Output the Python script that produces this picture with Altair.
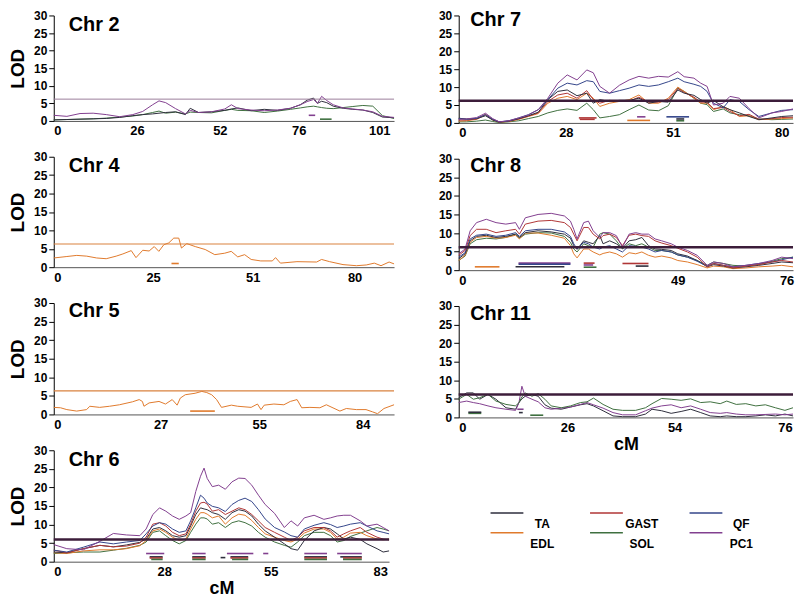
import altair as alt
import pandas as pd

FONT = "Liberation Sans"
SERIES = ["TA", "GAST", "QF", "EDL", "SOL", "PC1"]
COLORS = ["#2e2e3c", "#b03636", "#34468a", "#e07a2c", "#3f7040", "#82408f"]
YTICKS = [0, 5, 10, 15, 20, 25, 30]

# ---------------- Chr 2 ----------------
chr2_ticks = [0, 26, 52, 76, 101]
chr2_cm = [0, 4.1, 8.2, 12.3, 16.4, 20.6, 24.7, 27.8, 30.9, 32.9, 35.0, 38.1, 41.2, 42.7, 45.3, 49.4,
           53.5, 55.5, 57.5, 61.5, 65.5, 69.5, 73.5, 76.5, 78.6, 80.6, 81.8, 83.1, 84.7, 86.7, 89.8,
           92.8, 95.9, 99.0, 102.0, 105.6]
chr2_PC1 = [1.6, 1.3, 2.1, 2.2, 1.8, 1.2, 1.8, 2.7, 4.6, 5.7, 5.2, 3.5, 2.0, 3.0, 2.4, 2.6, 3.4, 4.6,
            3.5, 3.1, 2.9, 3.1, 3.6, 4.6, 5.5, 6.1, 5.0, 7.0, 5.8, 4.6, 3.7, 3.4, 3.1, 2.6, 1.3, 1.0]
chr2_TA = [0.3, 0.4, 0.5, 0.6, 0.7, 1.0, 1.5, 1.8, 2.0, 2.2, 2.4, 2.6, 1.8, 3.6, 2.4, 2.6, 3.0, 3.4,
           3.7, 2.9, 3.3, 3.0, 3.6, 4.6, 5.9, 6.5, 5.0, 5.6, 5.2, 4.2, 3.6, 3.3, 3.1, 2.4, 1.1, 0.9]
chr2_SOL = [0.3, 0.4, 0.5, 0.6, 0.8, 1.1, 1.4, 1.8, 2.4, 2.8, 2.2, 2.5, 2.0, 2.5, 2.4, 2.3, 3.0, 3.3,
            3.0, 2.9, 2.4, 2.8, 3.3, 3.7, 4.0, 4.2, 4.0, 3.8, 3.6, 3.5, 3.8, 4.1, 4.4, 4.2, 1.5, 0.7]

# ---------------- Chr 4 ----------------
chr4_ticks = [0, 25, 51, 80]
chr4_cm = [0, 3.3, 5.8, 8.3, 10.8, 13.2, 15.7, 17.4, 19.5, 20.7, 22.4, 24.0, 25.3, 26.5, 27.8, 29.1,
           30.4, 31.7, 32.4, 33.8, 36.0, 38.6, 41.1, 43.7, 45.4, 47.1, 48.9, 50.6, 53.3, 56.6, 57.5,
           58.9, 63.6, 69.2, 70.6, 72.9, 76.7, 80.5, 83.3, 85.6, 87.5, 89.8, 91.2]
chr4_EDL = [2.5, 2.9, 3.2, 3.0, 2.5, 2.3, 3.0, 3.6, 4.5, 2.6, 4.6, 4.4, 5.6, 4.3, 6.1, 6.6, 7.9, 7.9,
            5.2, 6.4, 5.6, 4.8, 3.4, 3.8, 4.3, 2.8, 3.4, 2.1, 1.7, 1.7, 2.6, 1.1, 1.5, 1.4, 2.1, 1.5,
            0.7, 0.4, 0.6, 1.1, 0.4, 1.4, 0.9]

# ---------------- Chr 5 ----------------
chr5_ticks = [0, 27, 55, 84]
chr5_cm = [0, 1.7, 3.3, 5.8, 8.3, 9.1, 11.6, 14.1, 16.6, 19.9, 21.6, 22.4, 22.8, 24.1, 26.6, 28.4,
           30.3, 31.7, 32.6, 34.0, 36.8, 38.7, 40.1, 41.5, 42.9, 44.3, 47.1, 48.9, 52.7, 54.5, 55.5,
           56.4, 59.1, 61.9, 63.7, 65.6, 66.9, 69.2, 72.0, 73.8, 77.6, 79.4, 82.2, 84.9, 86.7, 88.1,
           89.9, 92.7]
chr5_EDL = [1.9, 1.8, 1.3, 0.9, 1.3, 2.2, 1.9, 2.2, 2.6, 3.4, 4.0, 3.5, 2.2, 3.1, 3.5, 2.8, 4.0, 2.5,
            4.4, 5.3, 5.7, 6.2, 5.9, 5.3, 4.0, 1.9, 2.5, 2.2, 1.9, 2.8, 1.3, 2.5, 2.8, 2.6, 3.5, 4.0,
            1.8, 1.9, 1.8, 2.6, 0.9, 1.6, 1.3, 1.3, 0.7, 0.2, 1.6, 2.6]

# ---------------- Chr 6 ----------------
chr6_ticks = [0, 28, 55, 83]
chr6_cm = [0, 3.3, 7.5, 11.7, 15.1, 18.4, 21.8, 23.4, 25.1, 26.8, 28.4, 30.1, 31.8, 33.5, 34.7, 36.0,
           37.2, 38.1, 38.9, 40.2, 41.8, 43.5, 45.2, 46.9, 48.5, 50.2, 51.9, 53.6, 56.0, 58.5, 60.2,
           61.9, 63.6, 66.1, 68.6, 70.3, 72.0, 73.7, 75.4, 77.9, 79.6, 82.2, 83.8, 85.4]
chr6_PC1 = [4.6, 3.5, 3.2, 5.5, 7.6, 7.2, 7.0, 8.8, 12.7, 14.5, 13.6, 12.3, 11.4, 12.3, 13.2, 18.9,
            23.0, 25.2, 22.4, 20.2, 20.6, 19.5, 21.5, 22.5, 22.4, 20.6, 17.9, 15.4, 13.0, 9.2, 11.0,
            9.6, 11.8, 12.5, 11.4, 11.8, 12.3, 12.5, 12.5, 11.0, 9.6, 10.1, 9.2, 8.3]
chr6_QF = [3.1, 2.6, 3.9, 5.3, 4.8, 5.3, 5.7, 7.5, 9.6, 10.5, 10.1, 8.8, 7.9, 8.3, 11.0, 14.5, 17.9,
           17.1, 15.8, 14.9, 14.5, 13.5, 15.4, 16.5, 17.1, 16.2, 14.0, 11.5, 9.2, 8.0, 7.0, 6.6, 8.8,
           9.8, 10.5, 10.0, 9.2, 9.6, 10.1, 10.5, 9.6, 8.3, 7.9, 7.5]
chr6_GAST = [3.1, 2.4, 3.5, 4.4, 4.0, 4.2, 5.0, 6.6, 10.1, 10.5, 9.6, 7.9, 7.0, 7.5, 10.1, 13.6, 15.8,
             16.0, 15.5, 13.6, 14.0, 12.7, 13.6, 14.5, 14.0, 12.7, 11.0, 9.2, 7.9, 6.6, 5.7, 6.6, 8.3,
             9.2, 9.2, 8.3, 6.6, 7.5, 8.3, 9.2, 7.9, 6.6, 6.1, 5.9]
chr6_TA = [2.6, 2.4, 3.5, 4.4, 4.0, 4.5, 5.2, 6.1, 8.8, 9.2, 8.3, 7.0, 6.6, 7.0, 9.6, 12.7, 14.5, 14.2,
           14.0, 13.2, 12.7, 11.4, 13.2, 14.0, 13.6, 12.3, 10.1, 8.3, 6.6, 4.8, 3.5, 3.1, 5.7, 8.3,
           9.2, 8.8, 7.5, 6.1, 6.6, 6.0, 4.8, 3.5, 2.6, 2.9]
chr6_EDL = [2.4, 2.2, 2.9, 3.2, 3.2, 3.5, 4.3, 5.7, 8.3, 8.8, 7.9, 6.6, 5.7, 6.1, 8.8, 11.4, 13.2, 13.2,
            12.8, 11.8, 12.3, 10.1, 11.8, 12.8, 12.5, 11.1, 9.2, 7.5, 6.6, 5.7, 5.3, 6.1, 7.7, 8.8,
            8.8, 7.9, 6.1, 6.6, 7.7, 7.9, 7.0, 6.1, 5.9, 6.1]
chr6_SOL = [2.2, 2.4, 2.6, 2.6, 3.1, 3.6, 4.4, 5.3, 7.9, 8.3, 7.0, 5.7, 4.8, 5.7, 7.9, 10.1, 11.8, 11.8,
            11.5, 10.1, 10.5, 9.2, 10.5, 11.0, 10.5, 9.6, 7.9, 6.6, 5.3, 4.4, 3.9, 5.3, 7.0, 7.9, 7.9,
            7.0, 5.3, 5.7, 6.8, 7.7, 8.3, 9.2, 8.8, 8.3]

# ---------------- Chr 7 ----------------
chr7_ticks = [0, 28, 51, 80]
chr7_cm = [0, 2.1, 4.7, 7.0, 8.9, 10.6, 13.1, 15.7, 18.2, 20.8, 23.3, 25.9, 28.3, 30.4, 32.5, 33.9,
           35.3, 37.4, 39.5, 41.6, 43.7, 45.8, 47.9, 50.0, 52.3, 54.0, 56.6, 58.4, 60.1, 61.8, 64.4,
           66.2, 68.7, 71.3, 73.9, 77.4, 80.0, 83.0]
chr7_PC1 = [1.0, 1.1, 1.5, 2.7, 1.2, 0.3, 0.6, 1.4, 2.2, 3.7, 6.9, 11.1, 13.4, 12.0, 14.8, 14.0, 10.2,
            8.3, 10.5, 12.0, 13.0, 12.5, 13.0, 12.8, 14.3, 12.9, 12.5, 11.1, 10.2, 5.0, 5.5, 7.4, 6.9,
            4.0, 1.4, 2.8, 3.2, 3.9]
chr7_QF = [1.2, 1.0, 1.3, 2.3, 1.0, 0.3, 0.6, 1.4, 2.3, 3.7, 6.5, 9.7, 11.1, 10.6, 11.8, 11.5, 8.8, 8.3,
           9.0, 9.7, 10.6, 10.2, 10.6, 11.5, 12.5, 11.5, 10.8, 10.2, 8.8, 5.5, 4.2, 6.5, 6.0, 3.7, 1.8,
           2.8, 3.5, 3.7]
chr7_TA = [1.3, 1.1, 1.2, 2.0, 0.8, 0.2, 0.5, 1.2, 2.0, 3.0, 6.5, 8.8, 9.2, 7.6, 8.3, 5.5, 6.5, 6.0, 6.3,
           6.3, 6.9, 5.5, 6.0, 5.8, 9.2, 8.3, 7.7, 6.5, 5.5, 6.3, 4.5, 3.7, 2.8, 1.8, 0.9, 1.4, 1.8, 2.0]
chr7_EDL = [0.5, 0.6, 1.0, 2.2, 0.8, 0.2, 0.4, 1.0, 1.8, 2.6, 5.5, 6.9, 7.4, 6.5, 8.3, 6.9, 4.6, 5.5,
            6.0, 6.5, 7.8, 5.5, 5.5, 6.9, 10.0, 8.8, 6.9, 5.5, 5.5, 3.7, 4.6, 3.7, 1.8, 2.0, 0.9, 1.1,
            1.2, 1.4]
chr7_GAST = [0.8, 0.8, 1.1, 2.4, 0.9, 0.3, 0.5, 1.1, 1.9, 2.8, 6.0, 7.8, 8.3, 6.9, 9.0, 6.5, 5.5, 6.3,
             6.0, 6.0, 7.2, 5.8, 5.8, 6.5, 9.6, 8.5, 7.2, 5.8, 5.8, 4.0, 4.3, 3.2, 2.0, 2.4, 1.0, 1.2,
             1.5, 1.6]
chr7_SOL = [0.3, 0.3, 0.5, 0.8, 0.4, 0.1, 0.3, 0.6, 1.2, 1.8, 2.8, 3.5, 3.9, 3.5, 5.5, 3.7, 1.4, 1.8,
            2.3, 3.7, 5.0, 3.6, 3.4, 4.8, 9.7, 8.8, 6.9, 5.5, 5.1, 3.2, 3.9, 2.8, 2.3, 2.0, 1.1, 0.9,
            1.0, 1.1]

# ---------------- Chr 8 ----------------
chr8_ticks = [0, 26, 49, 76]
chr8_cm = [0, 1.5, 2.7, 4.2, 6.5, 8.8, 11.1, 13.4, 14.3, 15.7, 18.7, 21.8, 24.9, 26.3, 27.0, 27.7,
           29.1, 30.1, 31.1, 32.5, 33.2, 34.6, 36.0, 37.3, 38.7, 40.1, 41.4, 42.8, 44.2, 45.6, 47.6,
           49.0, 51.4, 53.8, 56.3, 57.9, 60.3, 62.7, 65.9, 69.1, 72.4, 74.8, 77.6]
chr8_PC1 = [4.4, 5.7, 10.6, 12.8, 13.7, 12.8, 12.4, 12.8, 11.0, 14.1, 15.0, 15.3, 14.6, 13.2, 11.0, 8.4,
            12.8, 13.2, 10.6, 8.8, 10.1, 10.1, 9.3, 6.2, 9.7, 10.1, 9.7, 9.7, 8.4, 7.9, 7.1, 6.2, 5.3,
            4.0, 1.3, 2.2, 1.8, 0.9, 1.3, 1.8, 2.6, 3.5, 3.1]
chr8_GAST = [4.0, 5.3, 9.3, 11.0, 11.0, 10.1, 10.6, 11.0, 9.7, 12.4, 13.2, 13.4, 12.8, 11.5, 9.7, 7.9,
             11.5, 11.5, 9.7, 8.4, 9.3, 9.7, 8.8, 6.6, 9.4, 9.7, 9.3, 9.1, 7.9, 7.3, 6.6, 5.9, 4.9,
             3.5, 0.9, 1.8, 1.3, 0.6, 1.1, 1.5, 2.2, 2.6, 2.2]
chr8_QF = [3.5, 4.7, 8.4, 9.4, 9.7, 9.1, 9.4, 10.1, 9.1, 10.6, 11.0, 11.0, 10.3, 9.1, 7.1, 5.7, 7.5, 7.1,
           6.2, 5.7, 6.2, 6.6, 5.7, 4.9, 6.6, 6.4, 6.2, 5.7, 4.9, 5.3, 4.9, 4.1, 3.5, 2.4, 1.1, 1.8, 1.3,
           0.9, 1.3, 1.8, 2.2, 2.8, 3.5]
chr8_TA = [3.1, 4.4, 7.9, 9.1, 9.4, 8.8, 9.1, 9.7, 8.8, 10.1, 10.6, 10.3, 9.7, 8.6, 6.6, 5.6, 7.9, 7.5,
           7.1, 9.3, 7.1, 7.9, 7.1, 5.9, 7.9, 8.2, 8.8, 6.6, 5.7, 5.6, 5.3, 4.4, 3.8, 2.6, 0.9, 1.5, 1.1,
           0.6, 0.9, 1.3, 1.8, 2.2, 2.0]
chr8_EDL = [2.6, 4.0, 7.5, 8.8, 9.1, 8.6, 8.8, 9.4, 8.4, 10.0, 10.0, 9.4, 8.6, 6.6, 4.4, 3.3, 5.7, 5.7,
            4.9, 4.1, 4.5, 4.9, 4.4, 3.5, 4.7, 4.4, 4.9, 4.0, 3.5, 3.8, 3.3, 2.6, 2.2, 1.5, 0.6, 1.1,
            0.9, 0.4, 0.6, 0.9, 1.1, 1.3, 0.9]
chr8_SOL = [2.6, 3.8, 7.1, 8.2, 8.6, 8.4, 8.8, 9.7, 8.6, 9.7, 10.1, 10.0, 9.1, 7.5, 5.7, 4.9, 7.1, 6.6,
            6.2, 9.7, 10.1, 9.7, 7.9, 5.7, 7.1, 6.6, 7.1, 6.2, 5.3, 5.3, 4.9, 4.1, 3.5, 2.6, 1.3, 2.2,
            1.8, 1.3, 1.1, 1.5, 2.4, 3.1, 3.5]

# ---------------- Chr 11 ----------------
chr11_ticks = [0, 26, 54, 76]
chr11_cm = [0, 1.9, 3.5, 5.0, 7.0, 8.9, 11.3, 13.6, 14.4, 15.1, 15.9, 17.5, 19.0, 20.6, 22.1, 24.5,
            26.8, 29.4, 31.1, 32.8, 35.3, 37.9, 40.4, 43.8, 46.4, 48.1, 50.6, 53.1, 55.3, 57.2, 59.2,
            61.1, 63.1, 64.4, 66.3, 68.2, 70.2, 72.1, 74.1, 76.0, 77.6]
chr11_SOL = [4.9, 6.2, 4.9, 5.3, 6.2, 4.4, 3.5, 3.1, 4.0, 5.5, 6.6, 5.7, 6.4, 4.9, 3.1, 2.6, 3.1, 4.0,
             4.2, 5.2, 3.5, 2.2, 1.9, 1.9, 2.6, 3.7, 5.1, 4.9, 4.6, 5.0, 4.0, 4.2, 3.7, 4.4, 3.5, 3.7,
             3.1, 3.4, 2.6, 1.9, 2.6]
chr11_PC1 = [4.0, 4.4, 4.0, 3.7, 3.1, 2.6, 2.2, 1.9, 4.0, 8.4, 5.7, 4.9, 4.2, 2.6, 2.2, 2.5, 2.8, 3.5,
             4.0, 3.4, 2.5, 1.3, 0.7, 0.7, 1.8, 2.5, 3.1, 3.4, 2.6, 3.1, 2.2, 1.3, 1.1, 1.3, 0.9, 0.7,
             0.7, 0.8, 0.9, 0.7, 0.9]
chr11_TA = [5.3, 6.6, 6.6, 4.9, 6.2, 4.9, 2.6, 2.2, 4.0, 5.0, 5.7, 6.2, 5.7, 3.4, 2.5, 2.2, 2.8, 3.4,
            3.7, 3.1, 1.8, 0.4, 0.2, 0.2, 0.9, 2.2, 1.8, 1.1, 1.6, 2.2, 1.3, 0.4, 0.2, 0.4, 0.2, 0.2,
            0.4, 0.7, 0.4, 0.9, 0.4]

# ---------------- QTL support intervals ----------------
ci_chr = ["Chr 2", "Chr 2", "Chr 4", "Chr 5",
          "Chr 6", "Chr 6", "Chr 6", "Chr 6", "Chr 6", "Chr 6",
          "Chr 6", "Chr 6", "Chr 6", "Chr 6", "Chr 6",
          "Chr 6", "Chr 6", "Chr 6", "Chr 6", "Chr 6",
          "Chr 6", "Chr 6", "Chr 6", "Chr 6", "Chr 6", "Chr 6",
          "Chr 7", "Chr 7", "Chr 7", "Chr 7", "Chr 7", "Chr 7", "Chr 7",
          "Chr 8", "Chr 8", "Chr 8", "Chr 8", "Chr 8", "Chr 8", "Chr 8", "Chr 8", "Chr 8",
          "Chr 11", "Chr 11", "Chr 11", "Chr 11", "Chr 11"]
ci_series = ["PC1", "SOL", "EDL", "EDL",
             "PC1", "PC1", "PC1", "PC1", "PC1", "PC1",
             "TA", "TA", "TA", "TA", "TA",
             "GAST", "GAST", "GAST", "GAST", "GAST",
             "SOL", "SOL", "SOL", "SOL", "SOL", "TA",
             "GAST", "GAST", "EDL", "PC1", "QF", "TA", "SOL",
             "EDL", "PC1", "QF", "TA", "GAST", "PC1", "SOL", "GAST", "TA",
             "SOL", "TA", "PC1", "TA", "SOL"]
ci_start = [79.1, 82.6, 29.8, 35.4,
            23.4, 35.1, 43.9, 53.1, 63.6, 72.0,
            24.3, 35.1, 44.8, 63.6, 72.8,
            24.3, 35.1, 44.8, 63.6, 73.5,
            24.7, 35.1, 45.2, 63.6, 73.5, 42.3,
            30.8, 31.0, 41.2, 43.3, 49.6, 51.9, 51.9,
            3.8, 14.1, 14.1, 13.4, 29.1, 29.1, 29.1, 37.3, 40.1,
            2.3, 2.3, 14.0, 14.4, 17.1]
ci_end = [81.1, 86.2, 31.7, 42.4,
          28.0, 38.5, 50.6, 54.4, 69.4, 78.3,
          27.6, 38.5, 49.3, 69.4, 78.3,
          27.6, 38.5, 49.3, 69.4, 78.3,
          27.6, 38.5, 49.3, 69.4, 78.3, 43.5,
          34.6, 34.2, 46.1, 45.1, 55.3, 54.0, 54.0,
          9.6, 26.3, 26.3, 24.9, 31.4, 31.1, 31.8, 42.8, 42.8,
          5.4, 5.4, 15.5, 15.3, 20.2]
ci_lod = [1.6, 0.5, 1.0, 0.9,
          2.2, 2.2, 2.2, 2.2, 2.2, 2.2,
          1.3, 1.3, 1.3, 1.3, 1.3,
          1.0, 1.0, 1.0, 1.0, 1.0,
          0.6, 0.6, 0.6, 0.6, 0.6, 1.1,
          1.4, 1.0, 0.7, 1.7, 1.7, 1.1, 0.6,
          0.9, 1.9, 1.6, 0.9, 1.9, 1.4, 0.8, 1.8, 1.1,
          1.1, 1.4, 2.2, 1.3, 0.6]

ci_df = pd.DataFrame({"chr": ci_chr, "series": ci_series, "cm": ci_start,
                      "cm2": ci_end, "lod": ci_lod})

color_scale = alt.Scale(domain=SERIES, range=COLORS)


def long_df(cm, series):
    rows = []
    for name, vals in series.items():
        for c, v in zip(cm, vals):
            rows.append({"cm": c, "lod": v, "series": name})
    return pd.DataFrame(rows)


def panel(label, cm, series, ticks, fracs, end_cm, width, height, thr, thr_color, thr_width,
          left_title, bottom_title, tx, ty):
    xs = alt.Scale(domain=ticks + [end_cm], range=[f * width for f in fracs] + [width],
                   nice=False, zero=False)
    ys = alt.Scale(domain=[0, 30], nice=False)
    if bottom_title:
        xa = alt.Axis(values=ticks, title="cM")
    else:
        xa = alt.Axis(values=ticks, title=None)
    if left_title:
        ya = alt.Axis(values=YTICKS, title="LOD")
    else:
        ya = alt.Axis(values=YTICKS, title=None)
    X = alt.X("cm:Q", scale=xs, axis=xa)
    Y = alt.Y("lod:Q", scale=ys, axis=ya)
    col = alt.Color("series:N", scale=color_scale, legend=None)

    lines = alt.Chart(long_df(cm, series)).mark_line(strokeWidth=1).encode(x=X, y=Y, color=col)
    thr_layer = alt.Chart(pd.DataFrame({"lod": [thr]})).mark_rule(
        color=thr_color, strokeWidth=thr_width).encode(y=Y)
    ci = alt.Chart(ci_df[ci_df["chr"] == label]).mark_rule(strokeWidth=1.6).encode(
        x=X, x2="cm2:Q", y=Y, color=col)
    txt = alt.Chart(pd.DataFrame({"t": [label]})).mark_text(
        align="left", baseline="alphabetic", fontSize=20, fontWeight="bold", font=FONT,
        color="black").encode(text="t:N", x=alt.value(tx), y=alt.value(ty))
    return alt.layer(lines, thr_layer, ci, txt).properties(width=width, height=height)


LW = 342
RW = 336
THICK = "#3c1d3a"

p2 = panel("Chr 2", chr2_cm, {"SOL": chr2_SOL, "TA": chr2_TA, "PC1": chr2_PC1},
           chr2_ticks, [0, .2446, .4881, .72, .9565], 105.6, LW, 106,
           6.2, "#9b7e9b", 1, True, False, 15, 16)
p4 = panel("Chr 4", chr4_cm, {"EDL": chr4_EDL},
           chr4_ticks, [0, .2919, .5846, .8841], 91.2, LW, 111,
           6.3, "#d9823f", 1.2, True, False, 15, 15)
p5 = panel("Chr 5", chr5_cm, {"EDL": chr5_EDL},
           chr5_ticks, [0, .3139, .6038, .9081], 92.7, LW, 112,
           6.35, "#d9823f", 1.2, True, False, 15, 14.5)
p6 = panel("Chr 6", chr6_cm, {"SOL": chr6_SOL, "EDL": chr6_EDL, "TA": chr6_TA, "GAST": chr6_GAST,
                              "QF": chr6_QF, "PC1": chr6_PC1},
           chr6_ticks, [0, .3295, .6469, .9735], 85.4, 337, 112,
           6.0, THICK, 2.5, True, True, 15, 16)
p7 = panel("Chr 7", chr7_cm, {"SOL": chr7_SOL, "EDL": chr7_EDL, "GAST": chr7_GAST, "TA": chr7_TA,
                              "QF": chr7_QF, "PC1": chr7_PC1},
           chr7_ticks, [0, .3204, .6408, .9662], 83.0, RW, 108,
           6.2, THICK, 2.5, False, False, 11.5, 11)
p8 = panel("Chr 8", chr8_cm, {"SOL": chr8_SOL, "EDL": chr8_EDL, "TA": chr8_TA, "QF": chr8_QF,
                              "GAST": chr8_GAST, "PC1": chr8_PC1},
           chr8_ticks, [0, .33, .6554, .9808], 77.6, RW, 112,
           6.2, THICK, 2.5, False, False, 11.5, 13)
p11 = panel("Chr 11", chr11_cm, {"TA": chr11_TA, "PC1": chr11_PC1, "SOL": chr11_SOL},
            chr11_ticks, [0, .3254, .6458, .9758], 77.6, RW, 112,
            6.2, THICK, 2.5, False, True, 11.5, 14.5)

# ---------------- legend ----------------
leg_df = pd.DataFrame({"series": SERIES,
                       "col": [i % 3 for i in range(len(SERIES))],
                       "row": [i // 3 for i in range(len(SERIES))]})
lx = alt.Scale(domain=[-0.32, 2.68], nice=False, zero=False)
ly = alt.Scale(domain=[-2.35, 1.65], reverse=True, nice=False, zero=False)
leg_base = alt.Chart(leg_df).transform_calculate(col_end="datum.col + 0.33",
                                                 lab_x="datum.col + 0.52")
leg_rules = leg_base.mark_rule(strokeWidth=1.5).encode(
    x=alt.X("col:Q", scale=lx, axis=None), x2="col_end:Q",
    y=alt.Y("row:Q", scale=ly, axis=None),
    color=alt.Color("series:N", scale=color_scale, legend=None))
leg_text = leg_base.mark_text(align="center", baseline="middle", dy=11, fontSize=12,
                              fontWeight="bold", font=FONT, color="black").encode(
    x=alt.X("lab_x:Q", scale=lx, axis=None),
    y=alt.Y("row:Q", scale=ly, axis=None), text="series:N")
legend = alt.layer(leg_rules, leg_text).properties(width=300, height=80)

left = alt.vconcat(p2, p4, p5, p6, spacing=13)
right = alt.vconcat(p7, p8, p11, legend, spacing=13)

chart = alt.hconcat(left, right, spacing=42).properties(
    padding={"left": 0, "top": 0, "right": 0, "bottom": 0}
).configure(font=FONT).configure_view(stroke=None).configure_axis(
    grid=False, labelFont=FONT, labelFontWeight="bold", labelColor="black",
    titleFont=FONT, titleFontWeight="bold", titleColor="black",
    domainColor="black", tickColor="black"
).configure_axisX(
    ticks=False, labelPadding=4, labelFontSize=13, domainColor="#555",
    titleFontSize=18, titlePadding=1
).configure_axisY(
    tickSize=5, labelPadding=2, labelFontSize=12, titleFontSize=19, titlePadding=6
)

chart.save("out.html", embed_options={"renderer": "svg", "actions": False})
